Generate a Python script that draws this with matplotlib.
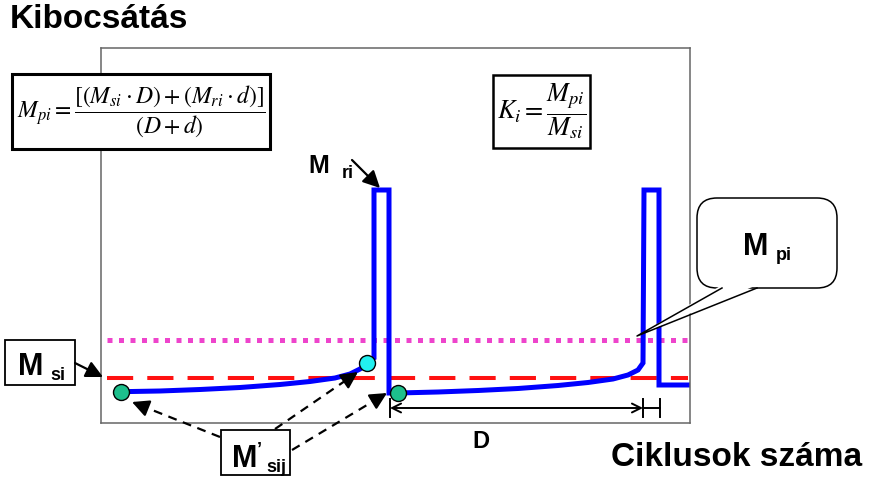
import matplotlib
matplotlib.use("Agg")
import matplotlib.pyplot as plt
from matplotlib.patches import Rectangle, FancyBboxPatch, Polygon

plt.rcParams["font.family"] = ["Liberation Sans", "DejaVu Sans"]
plt.rcParams["mathtext.fontset"] = "stix"

# emission trace against cycle count (arbitrary units, origin = lower-left of the frame)
cycles = [19.7, 59, 99, 139, 179, 209, 234, 249, 259, 266, 273,
          273, 288, 288, 297,
          337, 377, 417, 457, 487, 512, 527, 537, 542,
          543, 558, 558, 589]
emission = [31.3, 32, 33.5, 35.5, 38.5, 41.5, 45, 49, 54, 60.3, 65,
            233, 233, 30, 30,
            31, 32.5, 34.5, 37.5, 40.5, 44, 48, 53, 60,
            233, 233, 38, 38]

# first measurement of each period and last measurement before regeneration
period_start_x = [19.7, 297]
period_start_y = [31.3, 30]
period_end_x = [265.7]
period_end_y = [60.3]

# reference levels: M_si (dashed) and M_pi (dotted)
level_span = [6, 587]
m_si_level = 45
m_pi_level = 83

W, H = 869, 482
fig = plt.figure(figsize=(W / 100, H / 100), dpi=100)

ax = fig.add_axes([101 / W, 1 - 423 / H, 589 / W, 375 / H])
ax.set_xlim(0, 589)
ax.set_ylim(0, 375)
ax.set_xticks([])
ax.set_yticks([])
for spine in ax.spines.values():
    spine.set_color("#666666")
    spine.set_linewidth(1.1)

ax.plot(level_span, [m_pi_level] * 2, color="#EE44CC", lw=3.6,
        linestyle=(0, (1, 1.3)), dash_capstyle="butt")
ax.plot(level_span, [m_si_level] * 2, color="#FF1111", lw=2.9,
        linestyle=(0, (6.5, 3.5)), dash_capstyle="butt")
ax.plot(cycles, emission, color="#0000FF", lw=3.6, solid_joinstyle="miter")
ax.plot(period_start_x, period_start_y, "o", ms=11.5, mfc="#1DBF8C", mec="k", mew=1)
ax.plot(period_end_x, period_end_y, "o", ms=11.5, mfc="#22F0F0", mec="k", mew=1)

# overlay in pixel coordinates for labels, boxes and arrows
ov = fig.add_axes([0, 0, 1, 1])
ov.set_xlim(0, W)
ov.set_ylim(H, 0)
ov.axis("off")

bold = dict(fontweight="bold", color="black")
ov.text(10, 20, "Kibocsátás", fontsize=24, va="center", **bold)
ov.text(862, 458, "Ciklusok száma", fontsize=24, ha="right", va="center", **bold)
ov.text(481, 441, "D", fontsize=17, ha="center", va="center", **bold)


def label(x, y, sub, dx, dy, size=22, subsize=13, prime=False):
    ov.text(x, y, "M", fontsize=size, va="baseline", **bold)
    if prime:
        ov.text(x + 25, y - 12, "\u2019", fontsize=13, va="baseline", **bold)
    ov.text(x + dx, y + dy, sub, fontsize=subsize, va="baseline", **bold)


ov.add_patch(Rectangle((5, 340), 70, 45, fc="white", ec="black", lw=1.3))
label(18, 375, "si", 32, 5)

ov.add_patch(Rectangle((221, 430), 69, 45, fc="white", ec="black", lw=1.3))
label(232, 467, "sij", 34, 5, prime=True)

label(308, 173, "ri", 34, 5, size=18)

# callout bubble for M_pi
ov.add_patch(FancyBboxPatch((697, 198), 140, 90,
                            boxstyle="round,pad=0,rounding_size=20",
                            fc="white", ec="black", lw=1.1, zorder=3))
ov.add_patch(Polygon([(722, 285), (637, 336), (757, 285)], closed=True,
                     fc="white", ec="none", zorder=4))
ov.plot([722, 637, 757], [288, 336, 288], color="black", lw=1.1, zorder=5)
label(743, 255, "pi", 33, 5)

# formula boxes
ov.add_patch(Rectangle((12, 74), 258, 75, fc="white", ec="black", lw=2.2))
ov.text(141, 111,
        r"$M_{pi}=\dfrac{[(M_{si}\cdot D)+(M_{ri}\cdot d)]}{(D+d)}$",
        fontsize=17, ha="center", va="center")
ov.add_patch(Rectangle((493, 75), 97, 73, fc="white", ec="black", lw=1.8))
ov.text(542, 111, r"$K_i=\dfrac{M_{pi}}{M_{si}}$",
        fontsize=19, ha="center", va="center")

head = "-|>,head_length=0.6,head_width=0.3"


def arrow(p0, p1):
    ov.annotate("", xy=p1, xytext=p0,
                arrowprops=dict(arrowstyle=head, color="black", lw=1.6,
                                mutation_scale=17, shrinkA=0, shrinkB=0))


def dashed_arrow(p0, p1):
    dx, dy = p1[0] - p0[0], p1[1] - p0[1]
    n = (dx * dx + dy * dy) ** 0.5
    back = (p1[0] - dx / n * 12, p1[1] - dy / n * 12)
    ov.plot([p0[0], back[0]], [p0[1], back[1]], color="black", lw=1.6,
            linestyle=(0, (4, 3)))
    arrow(back, p1)


arrow((75, 363), (103, 377))
arrow((352, 160), (380, 188))
dashed_arrow((220, 437), (132, 402))
dashed_arrow((275, 429), (358, 372))
dashed_arrow((292, 450), (387, 393))

# dimension line for D
ov.annotate("", xy=(390, 408), xytext=(643, 408),
            arrowprops=dict(arrowstyle="<->", color="black", lw=1.4,
                            mutation_scale=16, shrinkA=0, shrinkB=0))
for xb in (390, 643, 660):
    ov.plot([xb, xb], [399, 417], color="black", lw=1.4)
ov.plot([643, 660], [408, 408], color="black", lw=1.4)

fig.savefig("out.png", dpi=100)
